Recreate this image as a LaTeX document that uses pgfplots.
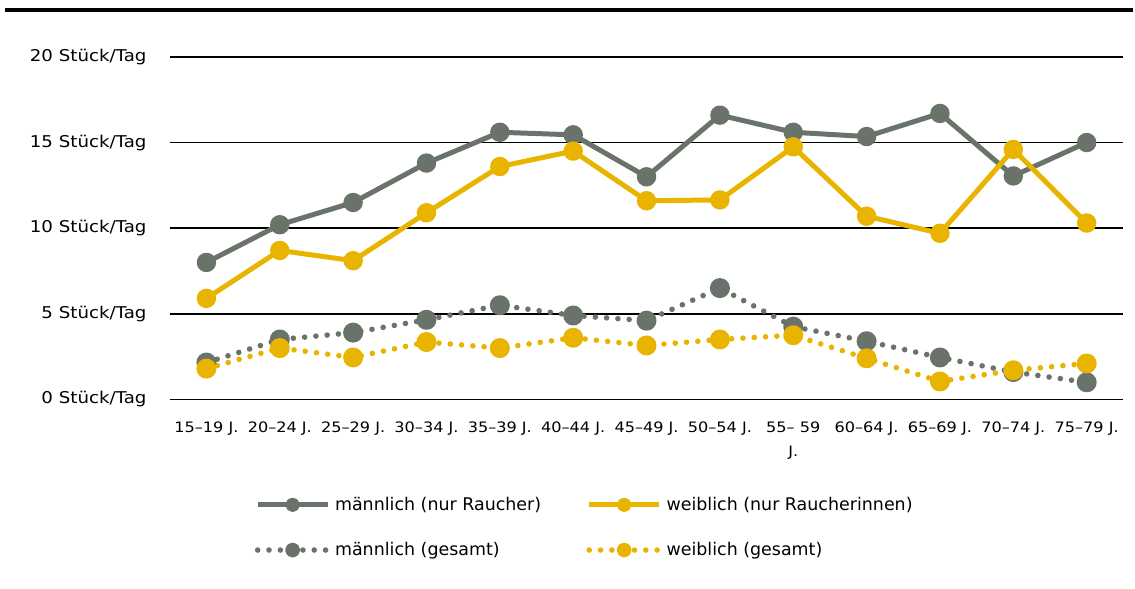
\documentclass[border=0pt]{standalone}
\usepackage{fontspec}
\setmainfont{DejaVu Sans}
\newfontfamily\widefont{DejaVu Sans}[FakeStretch=1.12]
\usepackage{pgfplots}
\pgfplotsset{compat=1.18}

\definecolor{mgrey}{HTML}{6A7369}
\definecolor{wgold}{HTML}{E8B400}

% 1px of the reference = 0.75pt
\begin{document}
\begin{tikzpicture}
  \path (0pt,0pt) rectangle (851.25pt,-441.75pt);
  % thick rule at the top
  \draw[line width=2.5pt] (3.75pt,-7.5pt) -- (851.25pt,-7.5pt);

  \begin{axis}[
      at={(127.5pt,-300pt)}, anchor=south west,
      scale only axis,
      width=716.25pt, height=257.25pt,
      xmin=-0.5, xmax=12.5,
      ymin=0, ymax=20,
      axis line style={draw=none},
      tick style={draw=none},
      ymajorgrids,
      major grid style={black, line width=1.3pt},
      ytick={0,5,10,15,20},
      yticklabels={0 Stück/Tag, 5 Stück/Tag, 10 Stück/Tag, 15 Stück/Tag, 20 Stück/Tag},
      yticklabel style={font=\widefont\fontsize{12.2}{15}\selectfont, anchor=east, inner sep=0pt, xshift=-17.25pt},
      xtick={0,...,12},
      xticklabels={15–19 J., 20–24 J., 25–29 J., 30–34 J., 35–39 J., 40–44 J., 45–49 J., 50–54 J., {55– 59\\J.}, 60–64 J., 65–69 J., 70–74 J., 75–79 J.},
      xticklabel style={font=\widefont\fontsize{10.8}{18}\selectfont, anchor=north, align=center, inner sep=0pt, yshift=-16.3pt},
      legend columns=2,
      legend cell align=left,
      legend style={draw=none, fill=none, inner sep=0pt,
        at={(0.089,-0.277)}, anchor=north west,
        font=\fontsize{13.1}{16}\selectfont,
        row sep=18.5pt,
        /tikz/every odd column/.append style={column sep=1.5pt},
        /tikz/every even column/.append style={column sep=32pt}},
      legend image code/.code={
        \draw[mark repeat=2, mark phase=2, #1, mark size=3.5pt]
          plot coordinates {(0pt,0pt) (26.25pt,0pt) (52.5pt,0pt)};
      },
      every axis plot/.append style={line join=round},
    ]
    % maennlich (nur Raucher)
    \addplot[mgrey, line width=3.75pt, mark=*, mark size=5.4pt] coordinates {
      (0,8.0) (1,10.2) (2,11.5) (3,13.8) (4,15.6) (5,15.45) (6,13.0)
      (7,16.6) (8,15.6) (9,15.35) (10,16.7) (11,13.05) (12,15.0)};
    \addlegendentry{männlich (nur Raucher)}
    % weiblich (nur Raucherinnen)
    \addplot[wgold, line width=3.75pt, mark=*, mark size=5.4pt] coordinates {
      (0,5.9) (1,8.7) (2,8.1) (3,10.9) (4,13.6) (5,14.5) (6,11.6)
      (7,11.65) (8,14.75) (9,10.7) (10,9.7) (11,14.6) (12,10.3)};
    \addlegendentry{weiblich (nur Raucherinnen)}
    % maennlich (gesamt)
    \addplot[mgrey, line width=4.2pt, line cap=round, dash pattern=on 0pt off 8.5pt,
      mark=*, mark size=5.4pt, mark options={solid}] coordinates {
      (0,2.15) (1,3.5) (2,3.9) (3,4.65) (4,5.5) (5,4.9) (6,4.6)
      (7,6.5) (8,4.25) (9,3.4) (10,2.45) (11,1.6) (12,1.0)};
    \addlegendentry{männlich (gesamt)}
    % weiblich (gesamt)
    \addplot[wgold, line width=4.2pt, line cap=round, dash pattern=on 0pt off 8.5pt,
      mark=*, mark size=5.4pt, mark options={solid}] coordinates {
      (0,1.8) (1,3.0) (2,2.45) (3,3.35) (4,3.0) (5,3.6) (6,3.15)
      (7,3.5) (8,3.75) (9,2.4) (10,1.05) (11,1.7) (12,2.1)};
    \addlegendentry{weiblich (gesamt)}
  \end{axis}
\end{tikzpicture}
\end{document}
